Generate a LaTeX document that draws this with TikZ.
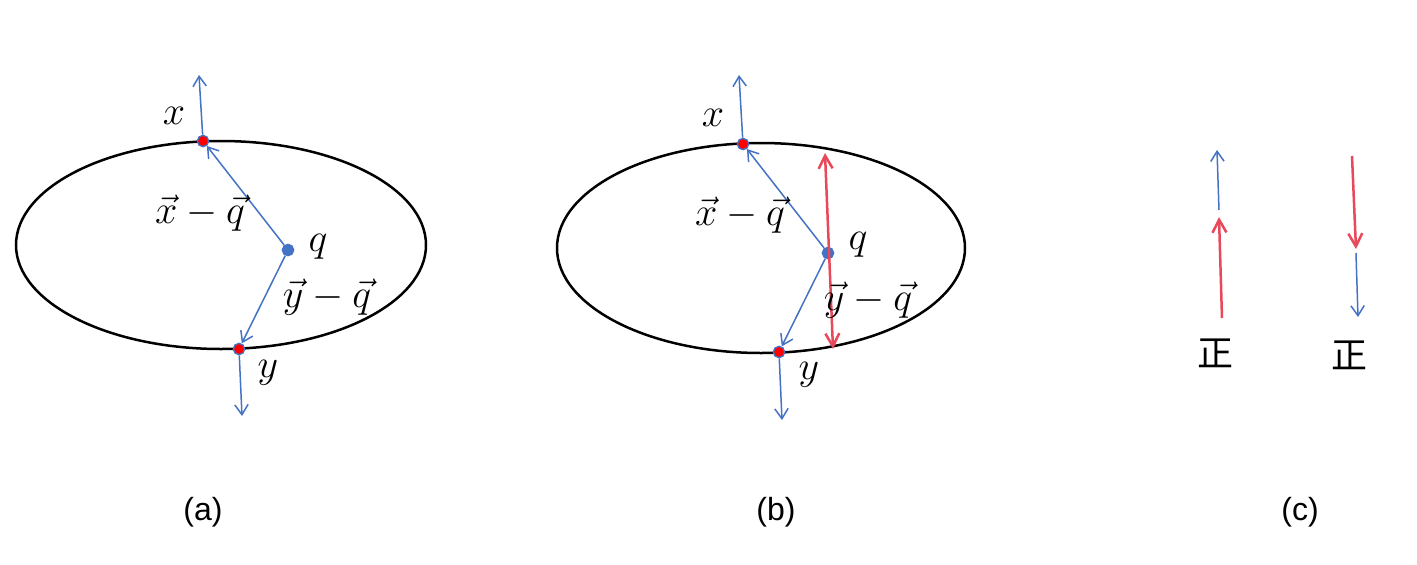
\documentclass[tikz,border=0pt]{standalone}
\usepackage{amsmath}
\usepackage{fontspec}
\setmainfont{Liberation Sans}
\newfontfamily\cjk{Noto Sans CJK SC}
\usetikzlibrary{arrows.meta}
\definecolor{vecblue}{RGB}{68,114,196}
\definecolor{dirred}{RGB}{232,72,90}

\begin{document}
\begin{tikzpicture}[x=0.3pt,y=-0.3pt]
        \useasboundingbox (0,0) rectangle (1417,565);

        % the two ellipses
        \draw[black, line width=0.75pt] (221,245) ellipse [x radius=205, y radius=104];
        \draw[black, line width=0.75pt] (761,248) ellipse [x radius=204, y radius=105];

        \begin{scope}[every node/.style={circle,draw=vecblue,line width=0.4pt,inner sep=0,minimum size=3.4pt}]
                \node[fill=red] (xa) at (203,141) {};
                \node[fill=vecblue] (qa) at (288,250) {};
                \node[fill=red] (ya) at (239,349) {};
                \node[fill=red] (xb) at (743,144) {};
                \node[fill=vecblue] (qb) at (828,253) {};
                \node[fill=red] (yb) at (779,352) {};
        \end{scope}

        \coordinate (xatop) at (199,75);
        \coordinate (yabot) at (242,416);
        \coordinate (xbtop) at (739,75);
        \coordinate (ybbot) at (782,420);
        \coordinate (rbtop) at (825,153);
        \coordinate (rbbot) at (833,349);
        \coordinate (cbl1) at (1219,210);
        \coordinate (cbl2) at (1217,150);
        \coordinate (crl1) at (1222,318);
        \coordinate (crl2) at (1219,217);
        \coordinate (crr1) at (1352,156);
        \coordinate (crr2) at (1356,249);
        \coordinate (cbr1) at (1356,253);
        \coordinate (cbr2) at (1358,317);

        \begin{scope}[every path/.style={vecblue, line width=0.45pt, -{Straight Barb[length=3pt,width=4pt]}}]
                \draw (xa) -- (xatop);
                \draw (qa) -- (xa);
                \draw (qa) -- (ya);
                \draw (ya) -- (yabot);
                \draw (xb) -- (xbtop);
                \draw (qb) -- (xb);
                \draw (qb) -- (yb);
                \draw (yb) -- (ybbot);
                \draw (cbl1) -- (cbl2);
                \draw (cbr1) -- (cbr2);
        \end{scope}

        \begin{scope}[every path/.style={dirred, line width=0.75pt, -{Straight Barb[length=3.9pt,width=4.2pt]}}]
                \draw[{Straight Barb[length=3.9pt,width=4.2pt]}-{Straight Barb[length=3.9pt,width=4.2pt]}] (rbtop) -- (rbbot);
                \draw (crl1) -- (crl2);
                \draw (crr1) -- (crr2);
        \end{scope}

        \begin{scope}[every node/.style={font=\fontsize{11.5}{14}\selectfont, inner sep=1pt}]
                \node (lxa) at (174,116) {\(x\)};
                \node (lxqa) at (200,213) {\(\vec{x}-\vec{q}\)};
                \node (lqa) at (318,247) {\(q\)};
                \node (lyqa) at (327,297) {\(\vec{y}-\vec{q}\)};
                \node (lya) at (268,373) {\(y\)};
                \node (lxb) at (713,118) {\(x\)};
                \node (lxqb) at (740,215) {\(\vec{x}-\vec{q}\)};
                \node (lqb) at (858,245) {\(q\)};
                \node (lyqb) at (868,300) {\(\vec{y}-\vec{q}\)};
                \node (lyb) at (809,375) {\(y\)};
        \end{scope}

        \begin{scope}[every node/.style={font=\fontsize{9.6}{12}\selectfont}]
                \node (capa) at (203,512) {(a)};
                \node (capb) at (776,512) {(b)};
                \node (capc) at (1300,512) {(c)};
                \node[font=\fontsize{10.8}{12}\selectfont] (zl) at (1215,353) {\cjk 正};
                \node[font=\fontsize{10.8}{12}\selectfont] (zr) at (1349,355) {\cjk 正};
        \end{scope}
\end{tikzpicture}
\end{document}
